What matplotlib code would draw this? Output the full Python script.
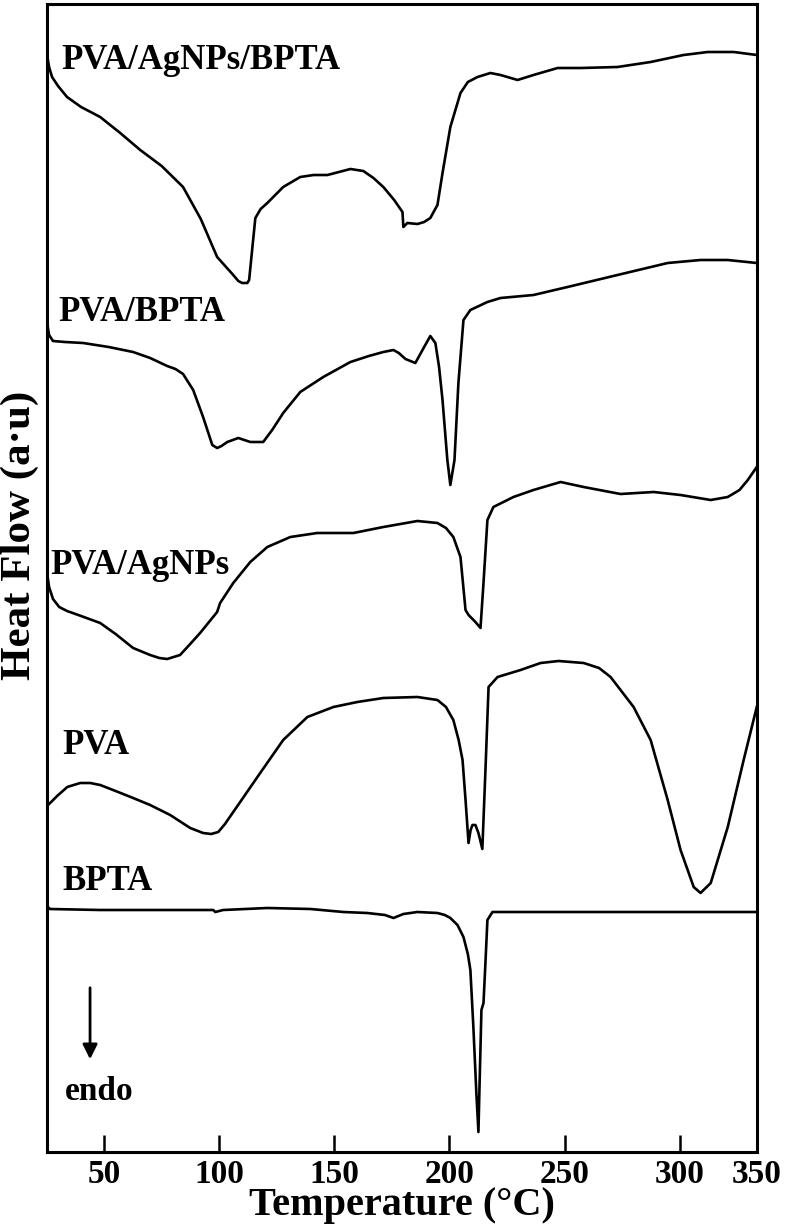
import matplotlib
matplotlib.use('Agg')
import matplotlib.pyplot as plt

plt.rcParams['font.family'] = ['Liberation Serif', 'DejaVu Serif']
plt.rcParams['font.weight'] = 'bold'

# DSC curves (temperature in °C, heat flow in a.u.)
t_agnps_bpta = [25.2, 25.6, 26.1, 27.4, 30.0, 33.9, 40.0, 48.3, 57.0, 65.7, 75.0, 84.3, 92.0, 99.1,
                106.1, 108.3, 110.0, 112.2, 113.0, 114.3, 115.7, 118.0, 120.9, 127.8, 135.2, 141.0,
                147.0, 152.0, 157.0, 162.6, 167.0, 171.3, 176.0, 179.6, 180.0, 181.7, 186.1, 189.0,
                191.7, 194.8, 197.0, 200.4, 204.8, 208.0, 212.2, 217.8, 222.2, 229.6, 236.5, 247.0,
                257.0, 273.0, 287.4, 301.7, 312.2, 323.5, 333.5]
h_agnps_bpta = [10.97, 10.92, 10.85, 10.75, 10.66, 10.55, 10.45, 10.35, 10.19, 10.02, 9.86, 9.65,
                9.33, 8.95, 8.77, 8.71, 8.69, 8.69, 8.72, 9.02, 9.34, 9.43, 9.49, 9.65, 9.75, 9.77,
                9.77, 9.80, 9.83, 9.81, 9.74, 9.65, 9.52, 9.40, 9.25, 9.29, 9.28, 9.30,
                9.34, 9.47, 9.79, 10.25, 10.59, 10.70, 10.75, 10.79, 10.77, 10.72, 10.77, 10.84,
                10.84, 10.85, 10.90, 10.97, 11.00, 11.00, 10.97]

t_bpta_pva = [25.2, 25.6, 26.1, 27.8, 33.0, 40.9, 52.0, 62.6, 70.0, 77.4, 81.0, 84.3, 88.7, 93.0,
              97.0, 99.1, 101.0, 103.5, 108.3, 113.5, 119.1, 123.0, 127.8, 135.2, 145.2, 157.0,
              165.0, 171.3, 175.7, 178.0, 180.9, 185.2, 188.3, 191.7, 193.9, 195.5, 197.0, 199.1,
              200.4, 202.2, 203.9, 206.1, 209.1, 216.5, 222.2, 236.5, 251.3, 273.0, 294.8, 309.1,
              320.9, 333.5]
h_bpta_pva = [8.34, 8.24, 8.17, 8.11, 8.10, 8.09, 8.05, 8.00, 7.94, 7.86, 7.83, 7.78, 7.62, 7.35,
              7.07, 7.04, 7.06, 7.10, 7.14, 7.10, 7.10, 7.22, 7.39, 7.60, 7.75, 7.90,
              7.96, 8.00, 8.02, 7.99, 7.93, 7.89, 8.02, 8.16, 8.09, 7.85, 7.52, 6.92,
              6.67, 6.92, 7.69, 8.32, 8.42, 8.50, 8.54, 8.57, 8.65, 8.77, 8.89, 8.92,
              8.92, 8.89]

t_agnps = [25.2, 25.6, 26.1, 27.8, 30.5, 33.9, 40.0, 48.3, 55.0, 62.6, 70.0, 74.0, 77.4, 83.0,
           87.0, 91.7, 99.1, 100.4, 106.1, 113.5, 120.9, 130.9, 142.6, 158.3, 171.3, 186.1,
           194.8, 198.5, 201.7, 204.8, 207.0, 208.3, 211.3, 213.5, 214.8, 216.5, 219.1, 225.2,
           227.8, 236.5, 248.3, 258.3, 274.3, 288.7, 300.4, 313.5, 320.9, 326.0, 329.6, 333.5]
h_agnps = [5.80, 5.73, 5.65, 5.53, 5.45, 5.41, 5.36, 5.29, 5.18, 5.04, 4.97, 4.94, 4.93, 4.97,
           5.07, 5.19, 5.40, 5.49, 5.69, 5.90, 6.05, 6.15, 6.19, 6.19, 6.25, 6.31,
           6.29, 6.24, 6.15, 5.95, 5.42, 5.37, 5.30, 5.24, 5.69, 6.32, 6.45, 6.52,
           6.55, 6.62, 6.70, 6.65, 6.58, 6.60, 6.57, 6.52, 6.55, 6.62, 6.72, 6.85]

t_pva = [25.2, 27.0, 29.6, 34.0, 39.6, 44.0, 48.3, 55.0, 62.6, 70.0, 78.7, 87.4, 93.0, 96.5, 99.6,
         102.5, 106.1, 117.8, 127.8, 138.3, 149.6, 160.0, 171.3, 186.1, 194.8, 198.5, 201.7,
         204.0, 205.7, 207.0, 208.3, 209.2, 210.0, 211.3, 212.6, 214.3, 215.7, 217.0, 220.9,
         230.9, 239.6, 247.4, 258.3, 265.0, 270.0, 280.0, 287.4, 294.8, 300.4, 306.1, 309.1,
         313.5, 320.9, 327.8, 333.5]
h_pva = [3.46, 3.50, 3.56, 3.65, 3.69, 3.69, 3.67, 3.61, 3.54, 3.47, 3.37, 3.24, 3.19, 3.18, 3.20,
         3.28, 3.40, 3.79, 4.12, 4.35, 4.45, 4.50, 4.54, 4.55, 4.52, 4.45, 4.32,
         4.12, 3.92, 3.52, 3.09, 3.22, 3.27, 3.27, 3.19, 3.03, 3.85, 4.65, 4.75,
         4.82, 4.89, 4.91, 4.89, 4.84, 4.75, 4.45, 4.12, 3.52, 3.02, 2.65, 2.59,
         2.69, 3.25, 3.92, 4.45]

t_bpta = [25.2, 25.6, 26.5, 48.3, 70.0, 97.4, 98.3, 101.7, 120.9, 139.6, 153.9, 164.3, 172.0,
          175.7, 180.0, 186.1, 194.8, 198.0, 200.4, 203.5, 206.1, 208.0, 209.1, 210.4, 211.7,
          212.6, 213.0, 213.9, 214.8, 215.7, 216.5, 218.7, 227.8, 333.5]
h_bpta = [2.49, 2.45, 2.43, 2.42, 2.42, 2.42, 2.40, 2.42, 2.44, 2.43, 2.40, 2.39, 2.37,
          2.34, 2.38, 2.40, 2.39, 2.37, 2.34, 2.27, 2.15, 1.98, 1.82, 1.25, 0.59,
          0.20, 0.59, 1.42, 1.49, 1.92, 2.32, 2.40, 2.40, 2.40]

series = [(t_agnps_bpta, h_agnps_bpta), (t_bpta_pva, h_bpta_pva), (t_agnps, h_agnps),
          (t_pva, h_pva), (t_bpta, h_bpta)]

# label text, left x (°C), centre y (a.u.)
labels = [('PVA/AgNPs/BPTA', 31.3, 10.92),
          ('PVA/BPTA', 30.0, 8.40),
          ('PVA/AgNPs', 26.5, 5.86),
          ('PVA', 31.7, 4.07),
          ('BPTA', 31.7, 2.70)]

xticks = [50, 100, 150, 200, 250, 300, 333.5]
xticklabels = ['50', '100', '150', '200', '250', '300', '350']

fig = plt.figure(figsize=(7.86, 12.25), dpi=100)
ax = fig.add_axes([47 / 786, 73 / 1225, 710 / 786, 1148 / 1225])

for t, h in series:
    ax.plot(t, h, color='black', lw=1.9, solid_joinstyle='round')

for txt, x, y in labels:
    ax.text(x, y, txt, fontsize=25, fontweight='bold', ha='left', va='center')

# endo arrow
ax.annotate('', xy=(43.9, 0.90), xytext=(43.9, 1.67),
            arrowprops=dict(arrowstyle='-|>', color='black', lw=2, mutation_scale=22))
ax.text(33.0, 0.60, 'endo', fontsize=24, fontweight='bold', ha='left', va='center')

ax.set_xlim(25.2, 333.6)
ax.set_ylim(0, 11.48)
ax.set_xticks(xticks)
ax.set_xticklabels(xticklabels)
ax.set_yticks([])
ax.tick_params(axis='x', direction='in', length=12, width=1.8, labelsize=24, pad=5)
for sp in ax.spines.values():
    sp.set_linewidth(2.2)

ax.set_xlabel('Temperature (°C)', fontsize=29, fontweight='bold', labelpad=-2)
fig.text(20 / 786, 1 - 535 / 1225, 'Heat Flow (a·u)', rotation=90, fontsize=31,
         fontweight='bold', ha='center', va='center')

fig.savefig('out.png', dpi=100)
